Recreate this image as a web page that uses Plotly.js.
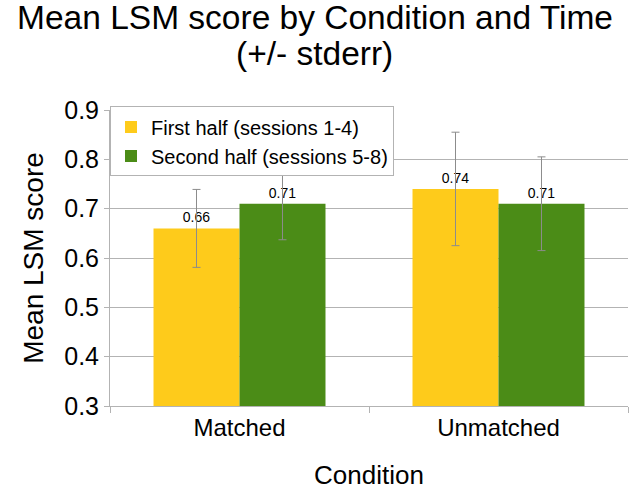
<!DOCTYPE html>
<html><head><meta charset="utf-8">
<script src="https://cdn.plot.ly/plotly-3.0.1.min.js"></script>
<style>html,body{margin:0;padding:0;background:#fff}</style>
</head><body>
<div id="chart" style="width:630px;height:493px"></div>
<script>
const categories = ["Matched", "Unmatched"];
const seriesNames = ["First half (sessions 1-4)", "Second half (sessions 5-8)"];
const firstHalf = [0.66, 0.74];
const secondHalf = [0.71, 0.71];
const firstErr = [0.079, 0.115];
const secondErr = [0.073, 0.095];
const colors = ["#fecb1b", "#4b8c17"];
const titleLine1 = "Mean LSM score by Condition and Time";
const titleLine2 = "(+/- stderr)";

const font = "Liberation Sans, Arial, sans-serif";
function mk(name, vals, errs, color) {
  return {
    type: "bar", name: name, x: categories, y: vals,
    marker: {color: color},
    error_y: {type: "data", array: errs, visible: true, color: "#8c8c8c", thickness: 1, width: 4},
    text: vals.map(v => v.toFixed(2)), textposition: "outside",
    textfont: {family: font, size: 14, color: "#000"},
    cliponaxis: false
  };
}
const data = [mk(seriesNames[0], firstHalf, firstErr, colors[0]), mk(seriesNames[1], secondHalf, secondErr, colors[1])];
const layout = {
  width: 630, height: 493,
  margin: {l: 110, r: 2, t: 110, b: 87},
  paper_bgcolor: "#fff", plot_bgcolor: "#fff",
  font: {family: font, color: "#000"},
  title: {text: titleLine1, font: {family: font, size: 33.5, color: "#000"}, x: 0.5, xanchor: "center", xref: "container", y: 0.965, yanchor: "middle", yref: "container"},
  annotations: [{text: titleLine2, xref: "paper", yref: "paper", x: 0.395, y: 1.19, xanchor: "center", yanchor: "middle", showarrow: false, font: {family: font, size: 33.5, color: "#000"}}],
  barmode: "group", bargap: 0.336, bargroupgap: 0,
  showlegend: true,
  legend: {x: 0, y: 1.012, xanchor: "left", yanchor: "top", bordercolor: "#b3b3b3", borderwidth: 1, bgcolor: "rgba(255,255,255,1)", font: {family: font, size: 20}, tracegroupgap: 0, itemwidth: 30},
  xaxis: {
    title: {text: "Condition", font: {family: font, size: 26}, standoff: 26},
    tickfont: {family: font, size: 24},
    ticks: "outside", tickson: "boundaries", ticklen: 6, tickcolor: "#b3b3b3",
    showline: true, linecolor: "#b3b3b3", showgrid: false
  },
  yaxis: {
    title: {text: "Mean LSM score", font: {family: font, size: 28}, standoff: 12},
    range: [0.3, 0.9], dtick: 0.1, tickformat: ".1f",
    tickfont: {family: font, size: 25},
    ticks: "outside", ticklen: 5, tickcolor: "#b3b3b3",
    showline: true, linecolor: "#b3b3b3", gridcolor: "#b3b3b3", zeroline: false
  }
};
Plotly.newPlot("chart", data, layout, {displayModeBar: false, staticPlot: true});
</script>
</body></html>
